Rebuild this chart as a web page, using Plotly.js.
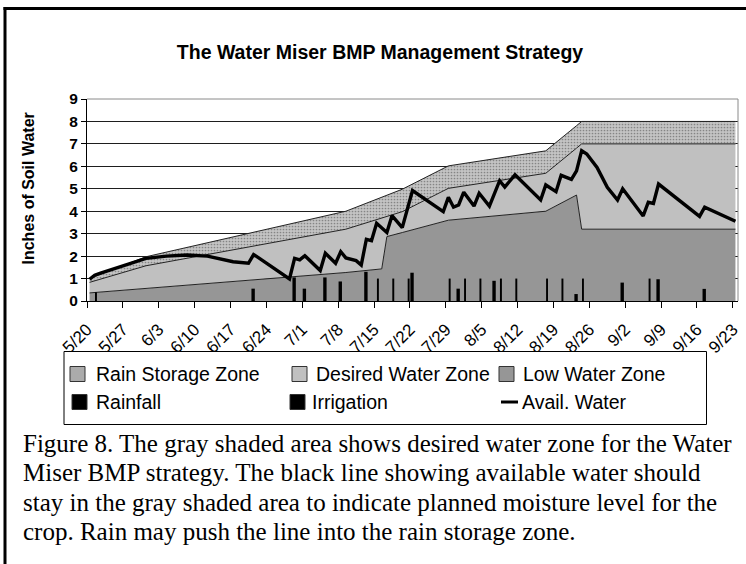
<!DOCTYPE html>
<html><head><meta charset="utf-8">
<script src="https://cdn.plot.ly/plotly-3.0.1.min.js"></script>
<style>html,body{margin:0;padding:0;background:#fff;overflow:hidden}</style>
</head><body><div id="chart" style="width:746px;height:564px"></div>
<script>
const YEAR = 2003;
const DAY = 86400000;

// ---- data ----
const seriesNames = ['Rain Storage Zone','Desired Water Zone','Low Water Zone','Rainfall','Irrigation','Avail. Water'];

// zone vertices (stacked thickness, inches)
const zoneDates        = ['5/20','5/31','7/9','7/16','7/17','7/20','7/29','8/17','8/23','8/24','9/23'];
const lowWaterZone     = [0.36, 0.56, 1.27, 1.43, 2.87, 3.05, 3.60, 4.00, 4.72, 3.20, 3.20];
const desiredWaterZone = [0.47, 1.01, 1.93, 2.27, 0.90, 0.93, 1.42, 1.69, 2.09, 3.80, 3.80];
const rainStorageZone  = [0.17, 0.40, 0.80, 0.94, 0.96, 1.00, 1.00, 1.00, 1.00, 1.00, 1.00];

// available water line
const waterDates = ['5/20','5/21','5/22','5/26','5/31','6/4','6/8','6/12','6/15','6/17','6/20','6/21','6/22','6/25','6/28','6/29','6/30','7/1','7/4','7/5','7/7','7/8','7/9','7/11','7/12','7/13','7/14','7/15','7/17','7/18','7/20','7/22','7/28','7/29','7/30','7/31','8/1','8/3','8/4','8/6','8/8','8/9','8/11','8/16','8/17','8/19','8/20','8/22','8/23','8/24','8/25','8/27','8/29','8/31','9/1','9/5','9/6','9/7','9/8','9/16','9/17','9/23'];
const availWater = [0.97,1.15,1.23,1.53,1.90,2.00,2.05,2.00,1.86,1.75,1.68,2.07,1.92,1.46,0.98,1.90,1.83,2.02,1.36,2.13,1.68,2.20,1.92,1.80,1.60,2.75,2.69,3.46,3.05,3.80,3.27,4.92,3.98,4.62,4.18,4.28,4.85,4.23,4.80,4.23,5.36,5.08,5.62,4.50,5.17,4.87,5.60,5.42,5.80,6.70,6.55,5.95,5.07,4.50,5.00,3.79,4.40,4.35,5.21,3.77,4.18,3.55];

// rainfall and irrigation events
const rainDates = ['6/21','6/29','7/1','7/5','7/8','7/13','7/22','7/31','8/7','8/23','9/1','9/8','9/17'];
const rainfall  = [0.55, 1.05, 0.55, 1.05, 0.87, 1.30, 1.26, 0.55, 0.90, 0.31, 0.82, 0.97, 0.54];
const irrDates  = ['5/21','7/15','7/18','7/21','7/29','8/1','8/4','8/8','8/11','8/17','8/20','8/24','9/6'];
const irrigation = [0.39, 1.00, 1.00, 1.00, 1.00, 1.00, 1.00, 1.00, 1.00, 1.00, 1.00, 1.00, 1.00];

const titleText = 'The Water Miser BMP Management Strategy';
const yTitleText = 'Inches of Soil Water';
const captionLines = [
  'Figure 8. The gray shaded area shows desired water zone for the Water',
  'Miser BMP strategy. The black line showing available water should',
  'stay in the gray shaded area to indicate planned moisture level for the',
  'crop. Rain may push the line into the rain storage zone.'
];

// ---- helpers ----
function iso(md, h){
  const p = md.split('/').map(Number);
  return YEAR + '-' + String(p[0]).padStart(2,'0') + '-' + String(p[1]).padStart(2,'0') + ' ' + String(h).padStart(2,'0') + ':00';
}
const noon = a => a.map(d => iso(d, 12));
const midnight = a => a.map(d => iso(d, 0));

const SANS = '"Liberation Sans", Arial, sans-serif';
const SERIF = '"Liberation Serif", "Times New Roman", serif';

const W = 746, H = 564;
const PL = 87, PT = 99, PW = 651, PH = 202;
const fx = X => (X - PL) / PW;
const fy = Y => (PT + PH - Y) / PH;

const edge = {color:'#222', width:1};

const traces = [
  {type:'scatter', mode:'lines', name:seriesNames[2], x:noon(zoneDates), y:lowWaterZone,
   stackgroup:'zones', line:edge, fillcolor:'#969696', hoverinfo:'skip'},
  {type:'scatter', mode:'lines', name:seriesNames[1], x:noon(zoneDates), y:desiredWaterZone,
   stackgroup:'zones', line:edge, fillcolor:'#c0c0c0', hoverinfo:'skip'},
  {type:'scatter', mode:'lines', name:seriesNames[0], x:noon(zoneDates), y:rainStorageZone,
   stackgroup:'zones', line:edge, fillcolor:'#b4b4b4',
   fillpattern:{shape:'.', size:3, solidity:0.25, fgcolor:'#858585', bgcolor:'#c4c4c4', fillmode:'replace'},
   hoverinfo:'skip'},
  {type:'bar', name:seriesNames[3], x:midnight(rainDates), y:rainfall,
   width:0.66*DAY, offset:0.08*DAY, marker:{color:'#000', line:{width:0}},
   xaxis:'x2', yaxis:'y2', hoverinfo:'skip'},
  {type:'bar', name:seriesNames[4], x:midnight(irrDates), y:irrigation,
   width:0.38*DAY, offset:0.56*DAY, marker:{color:'#000', line:{width:0}},
   xaxis:'x2', yaxis:'y2', hoverinfo:'skip'},
  {type:'scatter', mode:'lines', name:seriesNames[5], x:noon(waterDates), y:availWater,
   line:{color:'#000', width:3.4}, xaxis:'x2', yaxis:'y2', hoverinfo:'skip'}
];

const xRange = [iso('5/20',0), iso('9/24',0)];

const shapes = [];
const annotations = [];

// outer frame
shapes.push({type:'line', xref:'paper', yref:'paper', x0:fx(3.5), x1:fx(800), y0:fy(8.5), y1:fy(8.5), line:{color:'#000', width:3}});
shapes.push({type:'line', xref:'paper', yref:'paper', x0:fx(5), x1:fx(5), y0:fy(7), y1:fy(620), line:{color:'#000', width:3}});
// plot-area border (top, right)
shapes.push({type:'line', xref:'paper', yref:'paper', x0:0, x1:1, y0:1, y1:1, line:{color:'#8a8a8a', width:1}});
shapes.push({type:'line', xref:'paper', yref:'paper', x0:1, x1:1, y0:0, y1:1, line:{color:'#8a8a8a', width:1}});

// legend box
shapes.push({type:'rect', xref:'paper', yref:'paper', x0:fx(64), x1:fx(706.5), y0:fy(351.5), y1:fy(424.5),
  line:{color:'#000', width:1}, fillcolor:'#fff'});
const legendItems = [
  {name:seriesNames[0], kind:'sq', fill:'#ababab', sx:70,  tx:94,  row:0},
  {name:seriesNames[1], kind:'sq', fill:'#c0c0c0', sx:292, tx:314, row:0},
  {name:seriesNames[2], kind:'sq', fill:'#969696', sx:499, tx:521, row:0},
  {name:seriesNames[3], kind:'sq', fill:'#000000', sx:72,  tx:94,  row:1},
  {name:seriesNames[4], kind:'sq', fill:'#000000', sx:290, tx:310, row:1},
  {name:seriesNames[5], kind:'ln', fill:'#000000', sx:501, tx:520, row:1}
];
const rowY = [374, 402];
legendItems.forEach(it => {
  const cy = rowY[it.row];
  if (it.kind === 'sq') {
    shapes.push({type:'rect', xref:'paper', yref:'paper', x0:fx(it.sx), x1:fx(it.sx+15), y0:fy(cy-7.5), y1:fy(cy+7.5),
      line:{color:'#333', width:1}, fillcolor:it.fill});
  } else {
    shapes.push({type:'line', xref:'paper', yref:'paper', x0:fx(it.sx), x1:fx(it.sx+17), y0:fy(cy), y1:fy(cy),
      line:{color:'#000', width:3}});
  }
  annotations.push({xref:'paper', yref:'paper', x:fx(it.tx), y:fy(cy), xanchor:'left', yanchor:'middle',
    text:it.name, showarrow:false, font:{family:SANS, size:19.5, color:'#000'}});
});

// y-axis title
annotations.push({xref:'paper', yref:'paper', x:fx(27.5), y:fy(189), xanchor:'center', yanchor:'middle',
  text:yTitleText, textangle:-90, showarrow:false, font:{family:SANS, size:16, weight:700, color:'#000'}});

// caption
const capY = [443, 472.5, 502, 531.5];
captionLines.forEach((t, i) => {
  annotations.push({xref:'paper', yref:'paper', x:fx(21), y:fy(capY[i]), xanchor:'left', yanchor:'middle',
    text:t, showarrow:false, font:{family:SERIF, size:25, color:'#000'}});
});

const layout = {
  width:W, height:H,
  margin:{l:PL, r:W-PL-PW, t:PT, b:H-PT-PH, pad:0, autoexpand:false},
  paper_bgcolor:'#fff', plot_bgcolor:'#fff',
  showlegend:false,
  title:{text:titleText, xref:'container', yref:'container', x:380/W, y:1-52/H, xanchor:'center', yanchor:'middle',
    font:{family:SANS, size:19.5, weight:700, color:'#000'}},
  xaxis:{type:'date', range:xRange, tick0:iso('5/20',0), dtick:7*DAY, tickformat:'%-m/%-d', tickangle:-45,
    ticks:'outside', ticklen:6, tickwidth:1, tickcolor:'#000', showline:true, linecolor:'#000', linewidth:1,
    showgrid:false, zeroline:false, ticklabelstandoff:5,
    tickfont:{family:SANS, size:17, color:'#000'}, fixedrange:true},
  yaxis:{range:[0,9], tick0:0, dtick:1, ticks:'outside', ticklen:5, tickwidth:1, tickcolor:'#000',
    showline:true, linecolor:'#000', linewidth:1, showgrid:true, gridcolor:'#1e1e1e', gridwidth:1,
    zeroline:false, tickfont:{family:SANS, size:15.5, weight:700, color:'#000'}, fixedrange:true},
  xaxis2:{type:'date', range:xRange, overlaying:'x', visible:false, fixedrange:true},
  yaxis2:{range:[0,9], overlaying:'y', visible:false, fixedrange:true},
  barmode:'overlay',
  shapes:shapes,
  annotations:annotations
};

Plotly.newPlot('chart', traces, layout, {staticPlot:true, displayModeBar:false});
</script>
</body></html>
